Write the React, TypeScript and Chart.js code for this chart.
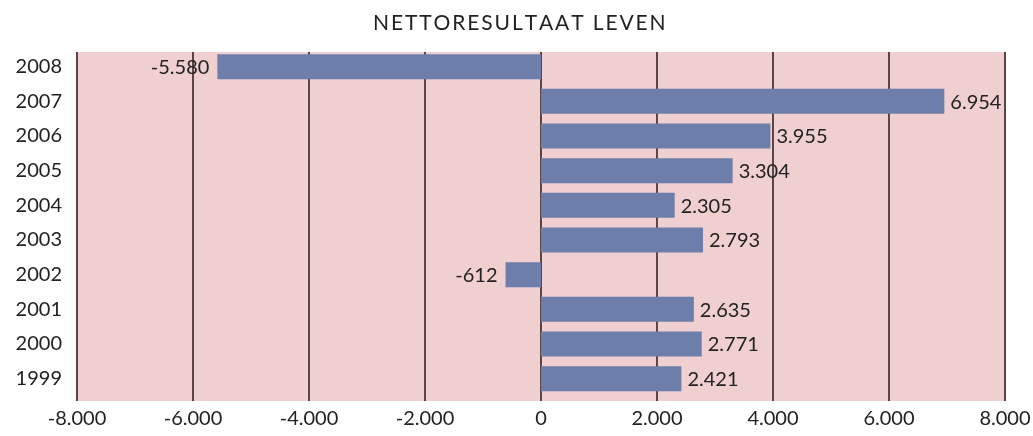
import React, { useEffect, useRef } from "react";
import { Chart, registerables } from "chart.js";

Chart.register(...registerables);

const title = "NETTORESULTAAT LEVEN";
const years = ["2008", "2007", "2006", "2005", "2004", "2003", "2002", "2001", "2000", "1999"];
const values = [-5580, 6954, 3955, 3304, 2305, 2793, -612, 2635, 2771, 2421];
const xMin = -8000;
const xMax = 8000;
const xStep = 2000;

const FONT = "Lato, 'Open Sans', sans-serif";
const TEXT = "#222222";
const PANEL_TOP = 52;
const PANEL_BOTTOM = 401;

function fmt(v: number): string {
  const neg = v < 0;
  const s = Math.abs(Math.round(v)).toString();
  const withDots = s.replace(/\B(?=(\d{3})+(?!\d))/g, ".");
  return (neg ? "-" : "") + withDots;
}

const bgPlugin = {
  id: "bgPlugin",
  beforeDatasetsDraw(chart: any) {
    const { ctx, chartArea } = chart;
    const xs = chart.scales.x;
    ctx.save();
    ctx.fillStyle = "#EFCFCF";
    ctx.fillRect(chartArea.left, PANEL_TOP, chartArea.right - chartArea.left, PANEL_BOTTOM - PANEL_TOP);
    ctx.strokeStyle = "#5A4646";
    ctx.lineWidth = 2;
    xs.ticks.forEach((t: any) => {
      const x = xs.getPixelForValue(t.value);
      ctx.beginPath();
      ctx.moveTo(x, PANEL_TOP);
      ctx.lineTo(x, PANEL_BOTTOM);
      ctx.stroke();
    });
    // title
    ctx.font = `21px ${FONT}`;
    ctx.fillStyle = TEXT;
    ctx.textBaseline = "middle";
    ctx.textAlign = "left";
    const target = 287;
    const w = ctx.measureText(title).width;
    const spacing = (target - w) / (title.length - 1);
    const cx = chart.width / 2;
    let x = cx - target / 2;
    for (const ch of title) {
      ctx.fillText(ch, x, 23);
      x += ctx.measureText(ch).width + spacing;
    }
    ctx.restore();
  },
};

const labelPlugin = {
  id: "labelPlugin",
  afterDatasetsDraw(chart: any) {
    const { ctx } = chart;
    const meta = chart.getDatasetMeta(0);
    ctx.save();
    ctx.font = `20px ${FONT}`;
    ctx.fillStyle = TEXT;
    ctx.textBaseline = "middle";
    meta.data.forEach((bar: any, i: number) => {
      const v = values[i];
      if (v >= 0) {
        ctx.textAlign = "left";
        ctx.fillText(fmt(v), bar.x + 6, bar.y + 1);
      } else {
        ctx.textAlign = "right";
        ctx.fillText(fmt(v), bar.x - 8, bar.y + 1);
      }
    });
    ctx.restore();
  },
};

export default function App() {
  const ref = useRef<HTMLCanvasElement | null>(null);
  useEffect(() => {
    document.body.style.margin = "0";
    const chart = new Chart(ref.current!, {
      type: "bar",
      data: {
        labels: years,
        datasets: [
          {
            data: values,
            backgroundColor: "#6E7EAA",
            borderWidth: 0,
            categoryPercentage: 1,
            barPercentage: 0.721,
          },
        ],
      },
      options: {
        indexAxis: "y",
        animation: false,
        responsive: false,
        layout: { padding: { left: 0, right: 0, top: 49.3, bottom: 0 } },
        plugins: {
          legend: { display: false },
          tooltip: { enabled: false },
          title: { display: false },
        },
        scales: {
          x: {
            min: xMin,
            max: xMax,
            ticks: {
              stepSize: xStep,
              color: TEXT,
              font: { family: FONT, size: 20 },
              padding: 11,
              callback: (v: any) => fmt(Number(v)),
            },
            grid: { display: false, drawTicks: false },
            border: { display: false },
            afterFit: (s: any) => {
              s.height = 40;
              s.paddingRight = 28;
              s.paddingLeft = 0;
            },
          },
          y: {
            ticks: {
              color: TEXT,
              font: { family: FONT, size: 20 },
              padding: 15,
            },
            grid: { display: false, drawTicks: false },
            border: { display: false },
            afterFit: (s: any) => {
              s.width = 77;
            },
          },
        },
      },
      plugins: [bgPlugin, labelPlugin],
    });
    return () => chart.destroy();
  }, []);
  return (
    <div style={{ width: 1033, height: 436 }}>
      <canvas ref={ref} width={1033} height={436} />
    </div>
  );
}
